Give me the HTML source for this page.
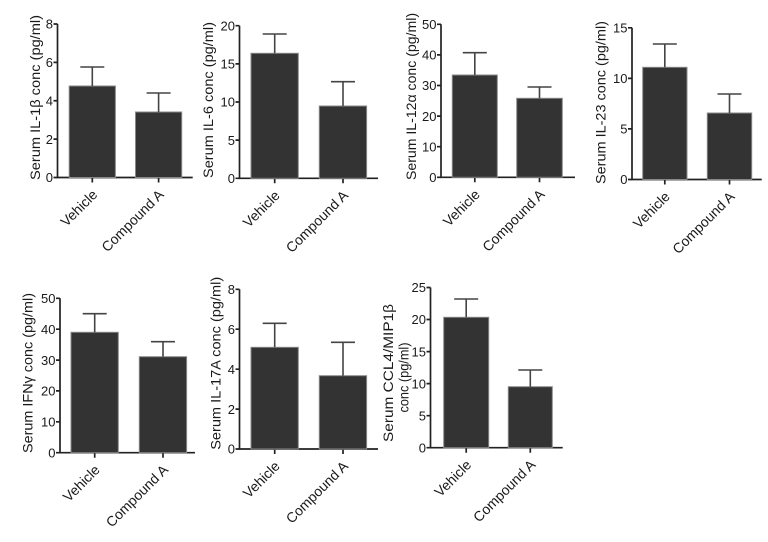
<!DOCTYPE html>
<html><head><meta charset="utf-8"><style>
html,body{margin:0;padding:0;background:#fff;}
svg{display:block;}
text{font-family:"Liberation Sans",Arial,sans-serif;fill:#1a1a1a;}
.tl{font-size:13px;text-anchor:end;}
.xl{font-size:14px;text-anchor:end;}
.yl{font-size:14px;text-anchor:middle;}
.ax{stroke:#222;stroke-width:1.7;fill:none;}
.bar{fill:#333;stroke:#888;stroke-width:1;}
.eb{stroke:#444;stroke-width:1.6;fill:none;}
</style></head><body>
<svg width="768" height="542" viewBox="0 0 768 542" xmlns="http://www.w3.org/2000/svg">

<!-- Panel 1 -->
<g>
<path class="ax" d="M57.5,24 V177.5 H192.7"/>
<path class="ax" d="M53.5,177.5H57.5 M53.5,139.1H57.5 M53.5,100.75H57.5 M53.5,62.4H57.5 M53.5,24H57.5 M92.3,177.5V182.5 M158.6,177.5V182.5"/>
<text class="tl" x="53" y="177.5" dy="0.36em">0</text>
<text class="tl" x="53" y="139.1" dy="0.36em">2</text>
<text class="tl" x="53" y="100.75" dy="0.36em">4</text>
<text class="tl" x="53" y="62.4" dy="0.36em">6</text>
<text class="tl" x="53" y="24" dy="0.36em">8</text>
<rect class="bar" x="69.2" y="86" width="46.2" height="91.5"/>
<rect class="bar" x="135.5" y="112" width="46.2" height="65.5"/>
<path class="eb" d="M92.3,86V67 M80.3,67H104.3 M158.6,112V93 M146.6,93H170.6"/>
<text class="xl" transform="translate(98.3,195.5) rotate(-45)">Vehicle</text>
<text class="xl" transform="translate(164.6,195.5) rotate(-45)">Compound A</text>
<text class="yl" transform="translate(40,97.5) rotate(-90)" textLength="165" lengthAdjust="spacingAndGlyphs">Serum IL-1β conc (pg/ml)</text>
</g>

<!-- Panel 2 -->
<g>
<path class="ax" d="M239.5,25.7 V178.3 H378"/>
<path class="ax" d="M235.5,178.3H239.5 M235.5,140.15H239.5 M235.5,102H239.5 M235.5,63.85H239.5 M235.5,25.7H239.5 M274.7,178.3V183.3 M343,178.3V183.3"/>
<text class="tl" x="235" y="178.3" dy="0.36em">0</text>
<text class="tl" x="235" y="140.15" dy="0.36em">5</text>
<text class="tl" x="235" y="102" dy="0.36em">10</text>
<text class="tl" x="235" y="63.85" dy="0.36em">15</text>
<text class="tl" x="235" y="25.7" dy="0.36em">20</text>
<rect class="bar" x="251" y="53.3" width="47.3" height="125"/>
<rect class="bar" x="319.3" y="106" width="47.3" height="72.3"/>
<path class="eb" d="M274.7,53.3V34 M262.7,34H286.7 M343,106V81.7 M331,81.7H355"/>
<text class="xl" transform="translate(280.7,196.3) rotate(-45)">Vehicle</text>
<text class="xl" transform="translate(349,196.3) rotate(-45)">Compound A</text>
<text class="yl" transform="translate(213,100) rotate(-90)" textLength="156" lengthAdjust="spacingAndGlyphs">Serum IL-6 conc (pg/ml)</text>
</g>

<!-- Panel 3 -->
<g>
<path class="ax" d="M441,24.3 V177.3 H575"/>
<path class="ax" d="M437,177.3H441 M437,146.7H441 M437,116.1H441 M437,85.5H441 M437,54.9H441 M437,24.3H441 M474.8,177.3V182.3 M539.5,177.3V182.3"/>
<text class="tl" x="436.5" y="177.3" dy="0.36em">0</text>
<text class="tl" x="436.5" y="146.7" dy="0.36em">10</text>
<text class="tl" x="436.5" y="116.1" dy="0.36em">20</text>
<text class="tl" x="436.5" y="85.5" dy="0.36em">30</text>
<text class="tl" x="436.5" y="54.9" dy="0.36em">40</text>
<text class="tl" x="436.5" y="24.3" dy="0.36em">50</text>
<rect class="bar" x="452.3" y="75" width="45" height="102.3"/>
<rect class="bar" x="516.7" y="98.3" width="45.6" height="79"/>
<path class="eb" d="M474.8,75V52.7 M462.8,52.7H486.8 M539.5,98.3V87 M527.5,87H551.5"/>
<text class="xl" transform="translate(480.8,195.3) rotate(-45)">Vehicle</text>
<text class="xl" transform="translate(545.5,195.3) rotate(-45)">Compound A</text>
<text class="yl" transform="translate(416,96.5) rotate(-90)" textLength="167" lengthAdjust="spacingAndGlyphs">Serum IL-12α conc (pg/ml)</text>
</g>

<!-- Panel 4 -->
<g>
<path class="ax" d="M632,27.8 V179.5 H761.7"/>
<path class="ax" d="M628,179.5H632 M628,128.9H632 M628,78.4H632 M628,27.8H632 M664.8,179.5V184.5 M729.5,179.5V184.5"/>
<text class="tl" x="627.5" y="179.5" dy="0.36em">0</text>
<text class="tl" x="627.5" y="128.9" dy="0.36em">5</text>
<text class="tl" x="627.5" y="78.4" dy="0.36em">10</text>
<text class="tl" x="627.5" y="27.8" dy="0.36em">15</text>
<rect class="bar" x="642.7" y="67.3" width="44.3" height="112.2"/>
<rect class="bar" x="707.3" y="113" width="44.4" height="66.5"/>
<path class="eb" d="M664.8,67.3V44 M652.8,44H676.8 M729.5,113V94 M717.5,94H741.5"/>
<text class="xl" transform="translate(670.8,197.5) rotate(-45)">Vehicle</text>
<text class="xl" transform="translate(735.5,197.5) rotate(-45)">Compound A</text>
<text class="yl" transform="translate(605.5,102.5) rotate(-90)" textLength="163" lengthAdjust="spacingAndGlyphs">Serum IL-23 conc (pg/ml)</text>
</g>

<!-- Panel 5 -->
<g>
<path class="ax" d="M60,298.3 V452.7 H195"/>
<path class="ax" d="M56,452.7H60 M56,421.8H60 M56,390.9H60 M56,360.1H60 M56,329.2H60 M56,298.3H60 M94.7,452.7V457.7 M163,452.7V457.7"/>
<text class="tl" x="55.5" y="452.7" dy="0.36em">0</text>
<text class="tl" x="55.5" y="421.8" dy="0.36em">10</text>
<text class="tl" x="55.5" y="390.9" dy="0.36em">20</text>
<text class="tl" x="55.5" y="360.1" dy="0.36em">30</text>
<text class="tl" x="55.5" y="329.2" dy="0.36em">40</text>
<text class="tl" x="55.5" y="298.3" dy="0.36em">50</text>
<rect class="bar" x="71" y="332.3" width="47.3" height="120.4"/>
<rect class="bar" x="139.3" y="356.7" width="47.3" height="96"/>
<path class="eb" d="M94.7,332.3V313.7 M82.7,313.7H106.7 M163,356.7V341.7 M151,341.7H175"/>
<text class="xl" transform="translate(100.7,470.7) rotate(-45)">Vehicle</text>
<text class="xl" transform="translate(169,470.7) rotate(-45)">Compound A</text>
<text class="yl" transform="translate(32.7,373) rotate(-90)" textLength="160" lengthAdjust="spacingAndGlyphs">Serum IFNγ conc (pg/ml)</text>
</g>

<!-- Panel 6 -->
<g>
<path class="ax" d="M239.5,289.3 V449 H378"/>
<path class="ax" d="M235.5,449H239.5 M235.5,409.1H239.5 M235.5,369.2H239.5 M235.5,329.2H239.5 M235.5,289.3H239.5 M274.7,449V454 M343,449V454"/>
<text class="tl" x="235" y="449" dy="0.36em">0</text>
<text class="tl" x="235" y="409.1" dy="0.36em">2</text>
<text class="tl" x="235" y="369.2" dy="0.36em">4</text>
<text class="tl" x="235" y="329.2" dy="0.36em">6</text>
<text class="tl" x="235" y="289.3" dy="0.36em">8</text>
<rect class="bar" x="251" y="347.3" width="47.3" height="101.7"/>
<rect class="bar" x="319.3" y="375.7" width="47.3" height="73.3"/>
<path class="eb" d="M274.7,347.3V323.3 M262.7,323.3H286.7 M343,375.7V342.3 M331,342.3H355"/>
<text class="xl" transform="translate(280.7,467) rotate(-45)">Vehicle</text>
<text class="xl" transform="translate(349,467) rotate(-45)">Compound A</text>
<text class="yl" transform="translate(220.7,363.3) rotate(-90)" textLength="173" lengthAdjust="spacingAndGlyphs">Serum IL-17A conc (pg/ml)</text>
</g>

<!-- Panel 7 -->
<g>
<path class="ax" d="M430.5,287.5 V447.7 H562.7"/>
<path class="ax" d="M426.5,447.7H430.5 M426.5,415.7H430.5 M426.5,383.6H430.5 M426.5,351.6H430.5 M426.5,319.5H430.5 M426.5,287.5H430.5 M466.2,447.7V452.7 M530.3,447.7V452.7"/>
<text class="tl" x="426" y="447.7" dy="0.36em">0</text>
<text class="tl" x="426" y="415.7" dy="0.36em">5</text>
<text class="tl" x="426" y="383.6" dy="0.36em">10</text>
<text class="tl" x="426" y="351.6" dy="0.36em">15</text>
<text class="tl" x="426" y="319.5" dy="0.36em">20</text>
<text class="tl" x="426" y="287.5" dy="0.36em">25</text>
<rect class="bar" x="443.7" y="317.3" width="45" height="130.4"/>
<rect class="bar" x="508.3" y="386.7" width="44" height="61"/>
<path class="eb" d="M466.2,317.3V299 M454.2,299H478.2 M530.3,386.7V370 M518.3,370H542.3"/>
<text class="xl" transform="translate(472.2,465.7) rotate(-45)">Vehicle</text>
<text class="xl" transform="translate(536.3,465.7) rotate(-45)">Compound A</text>
<text class="yl" transform="translate(393,373) rotate(-90)" textLength="138" lengthAdjust="spacingAndGlyphs">Serum CCL4/MIP1β</text>
<text class="yl" style="font-size:13.5px" transform="translate(408.5,377.5) rotate(-90)" textLength="70" lengthAdjust="spacingAndGlyphs">conc (pg/ml)</text>
</g>

</svg>
</body></html>
